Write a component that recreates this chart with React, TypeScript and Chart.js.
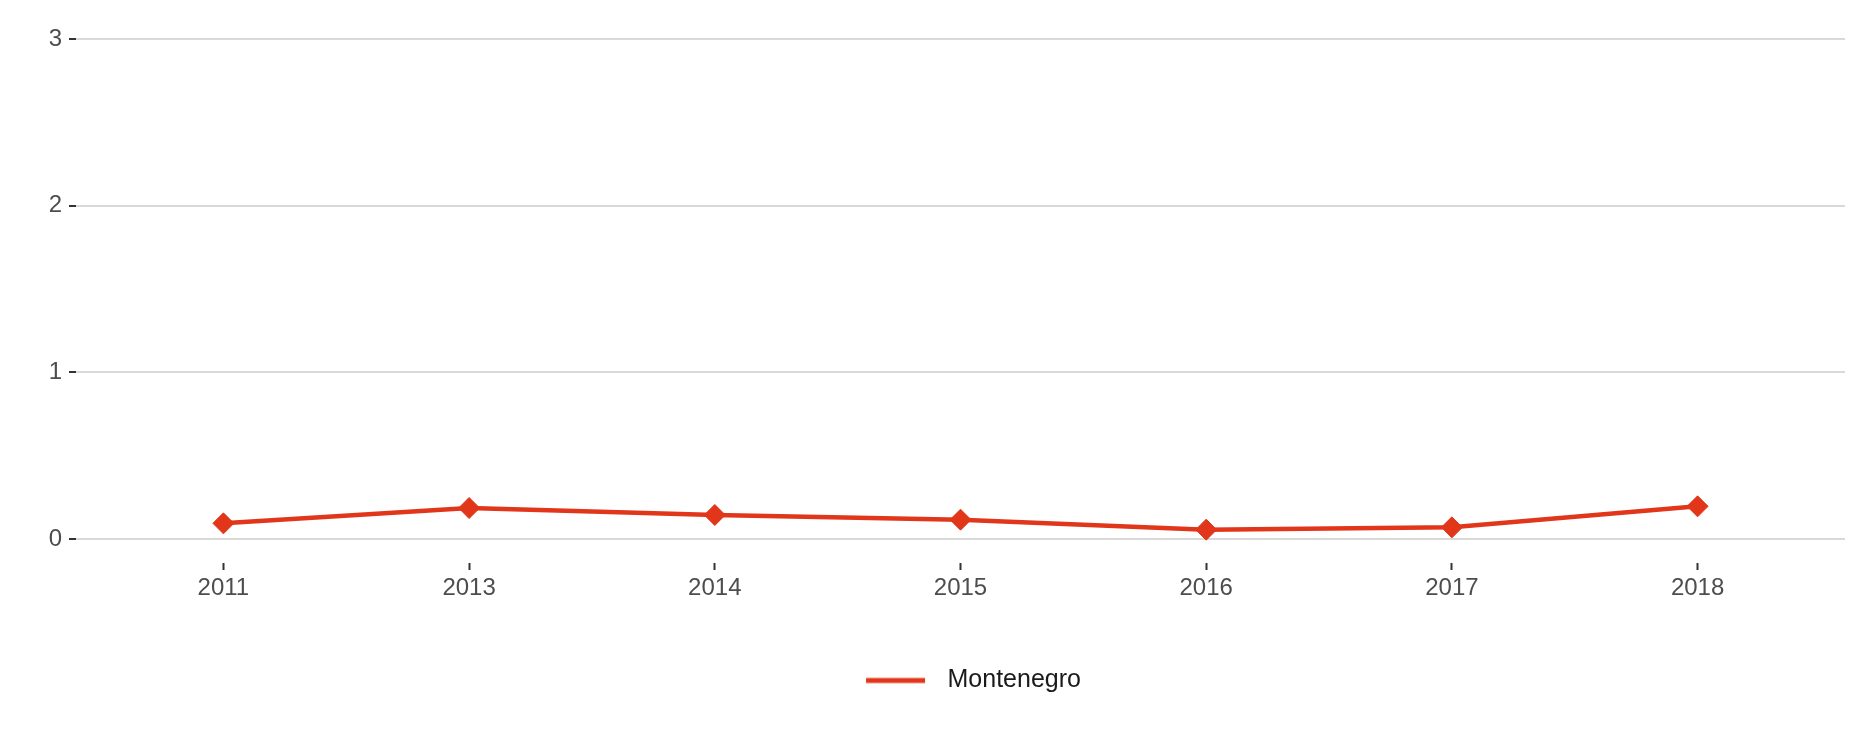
import React, { useEffect, useRef } from "react";
import { Chart, registerables } from "chart.js";

Chart.register(...registerables);

const years = ["2011", "2013", "2014", "2015", "2016", "2017", "2018"];
const montenegro = [0.094, 0.186, 0.144, 0.116, 0.056, 0.07, 0.196];
const yTickValues = [0, 1, 2, 3];
const seriesLabel = "Montenegro";

const LINE_COLOR = "#e1361a";
const FONT = "'Liberation Sans', Arial, Helvetica, sans-serif";

function makeLegendSwatch(): HTMLCanvasElement {
  const c = document.createElement("canvas");
  c.width = 171;
  c.height = 8;
  const ctx = c.getContext("2d")!;
  ctx.strokeStyle = LINE_COLOR;
  ctx.lineWidth = 5;
  ctx.beginPath();
  ctx.moveTo(102, 4);
  ctx.lineTo(161, 4);
  ctx.stroke();
  return c;
}

export default function App() {
  const ref = useRef<HTMLCanvasElement | null>(null);

  useEffect(() => {
    if (!ref.current) return;
    const swatch = makeLegendSwatch();
    const chart = new Chart(ref.current, {
      type: "line",
      data: {
        datasets: [
          {
            label: seriesLabel,
            data: montenegro.map((v, i) => ({ x: i, y: v })),
            borderColor: LINE_COLOR,
            backgroundColor: LINE_COLOR,
            borderWidth: 4.5,
            pointStyle: "rectRot",
            pointRadius: 10.5,
            pointBorderWidth: 1,
            pointBackgroundColor: LINE_COLOR,
            pointBorderColor: LINE_COLOR,
            tension: 0,
            fill: false,
          },
        ],
      },
      options: {
        animation: false,
        responsive: true,
        maintainAspectRatio: false,
        layout: { padding: { top: 39, right: 15, bottom: 41, left: 0 } },
        plugins: {
          tooltip: { enabled: false },
          legend: {
            position: "bottom",
            align: "center",
            labels: {
              usePointStyle: true,
              pointStyle: swatch as any,
              pointStyleWidth: 171,
              boxHeight: 8,
              padding: 10,
              color: "#1a1a1a",
              font: { family: FONT, size: 25 },
            },
          },
        },
        scales: {
          x: {
            type: "linear",
            min: -0.6,
            max: years.length - 1 + 0.6,
            afterBuildTicks: (axis: any) => {
              axis.ticks = years.map((_, i) => ({ value: i }));
            },
            afterFit: (axis: any) => {
              axis.height = 95;
            },
            grid: {
              display: true,
              drawOnChartArea: false,
              drawTicks: true,
              tickLength: 7,
              tickWidth: 2,
              tickColor: "#333333",
            },
            border: { display: false },
            ticks: {
              autoSkip: false,
              maxRotation: 0,
              padding: 4,
              color: "#4d4d4d",
              font: { family: FONT, size: 24 },
              callback: (v: any) => years[Math.round(Number(v))] ?? "",
            },
          },
          y: {
            type: "linear",
            min: -0.144,
            max: 3,
            afterBuildTicks: (axis: any) => {
              axis.ticks = yTickValues.map((v) => ({ value: v }));
            },
            afterFit: (axis: any) => {
              axis.width = 76;
            },
            grid: {
              color: "#d9d9d9",
              lineWidth: 2,
              drawTicks: true,
              tickLength: 7,
              tickWidth: 2,
              tickColor: "#333333",
            },
            border: { display: false },
            ticks: {
              padding: 7,
              color: "#4d4d4d",
              font: { family: FONT, size: 24 },
              callback: (v: any) => String(v),
            },
          },
        },
      },
    });
    return () => chart.destroy();
  }, []);

  return (
    <div
      style={{
        position: "fixed",
        left: 0,
        top: 0,
        width: 1860,
        height: 744,
        background: "#ffffff",
      }}
    >
      <canvas ref={ref} />
    </div>
  );
}
